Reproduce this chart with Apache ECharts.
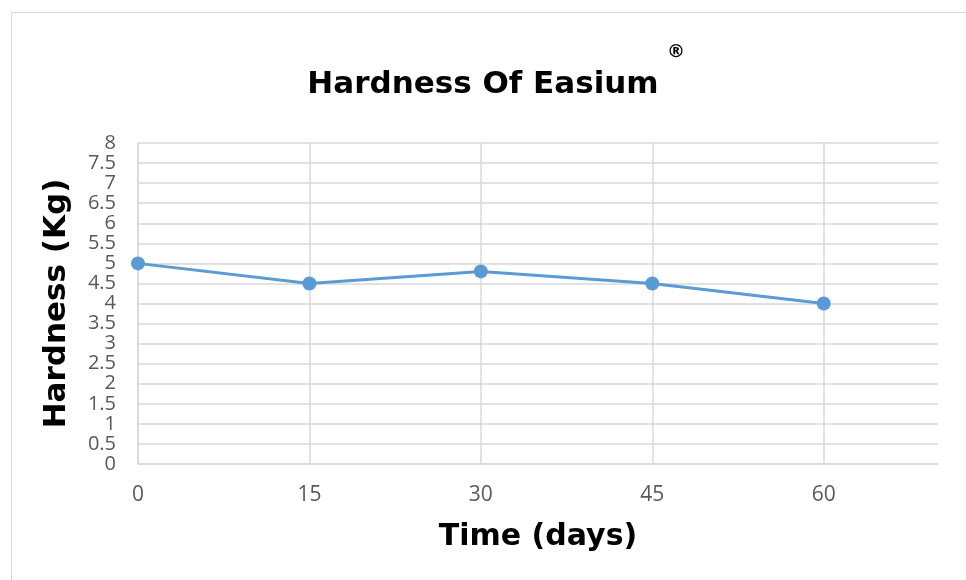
<!DOCTYPE html>
<html>
<head>
<meta charset="utf-8">
<script src="https://cdn.jsdelivr.net/npm/echarts@6/dist/echarts.min.js"></script>
<style>
  html, body { margin: 0; padding: 0; background: #fff; }
  #chart { width: 966px; height: 580px; }
</style>
</head>
<body>
<div id="chart"></div>
<script>
// Sampling times (days) and measured hardness (Kg)
const days = [0, 15, 30, 45, 60];
const hardness = [5, 4.5, 4.8, 4.5, 4];

const titleText = 'Hardness Of Easium';
const xName = 'Time (days)';
const yName = 'Hardness (Kg)';

const seriesData = days.map((d, i) => [d, hardness[i]]);

const gridColor = '#d9d9d9';
const labelColor = '#595959';
const labelFont = '"Open Sans", "Liberation Sans", sans-serif';
const heavyFont = '"DejaVu Sans", sans-serif';

const chart = echarts.init(document.getElementById('chart'), null, { renderer: 'canvas' });

chart.setOption({
  animation: false,
  backgroundColor: '#ffffff',
  title: {
    text: titleText,
    left: 478,
    top: 64,
    textAlign: 'center',
    textStyle: { fontFamily: heavyFont, fontWeight: 'bold', fontSize: 31, color: '#000' }
  },
  graphic: [
    {
      type: 'rect',
      shape: { x: 11.5, y: 12.5, width: 980, height: 600 },
      style: { fill: 'none', stroke: '#d9d9d9', lineWidth: 1 },
      silent: true
    },
    {
      type: 'text',
      left: 667,
      top: 43,
      style: { text: '®', fontFamily: heavyFont, fontWeight: 'bold', fontSize: 18, fill: '#000' }
    }
  ],
  grid: { left: 138, right: 28, top: 143, bottom: 116 },
  xAxis: {
    type: 'value',
    min: 0,
    max: 70,
    interval: 15,
    name: xName,
    nameLocation: 'middle',
    nameGap: 58,
    nameTextStyle: { fontFamily: heavyFont, fontWeight: 'bold', fontSize: 30, color: '#000' },
    axisLine: { show: true, lineStyle: { color: gridColor, width: 1.5 } },
    axisTick: { show: false },
    axisLabel: {
      showMaxLabel: false,
      margin: 21,
      fontFamily: labelFont,
      fontSize: 21,
      color: labelColor
    },
    splitLine: { show: true, showMaxLine: false, lineStyle: { color: gridColor, width: 1.5 } }
  },
  yAxis: {
    type: 'value',
    min: 0,
    max: 8,
    interval: 0.5,
    name: yName,
    nameLocation: 'middle',
    nameRotate: 90,
    nameGap: 66,
    nameTextStyle: { fontFamily: heavyFont, fontWeight: 'bold', fontSize: 31, color: '#000' },
    axisLine: { show: true, lineStyle: { color: gridColor, width: 1.5 } },
    axisTick: { show: false },
    axisLabel: {
      margin: 22,
      fontFamily: labelFont,
      fontSize: 20,
      lineHeight: 20,
      color: labelColor
    },
    splitLine: { show: true, lineStyle: { color: gridColor, width: 1.5 } }
  },
  series: [
    {
      type: 'line',
      data: seriesData,
      symbol: 'circle',
      symbolSize: 14,
      lineStyle: { color: '#5b9bd5', width: 3 },
      itemStyle: { color: '#5b9bd5' }
    }
  ]
});
</script>
</body>
</html>
